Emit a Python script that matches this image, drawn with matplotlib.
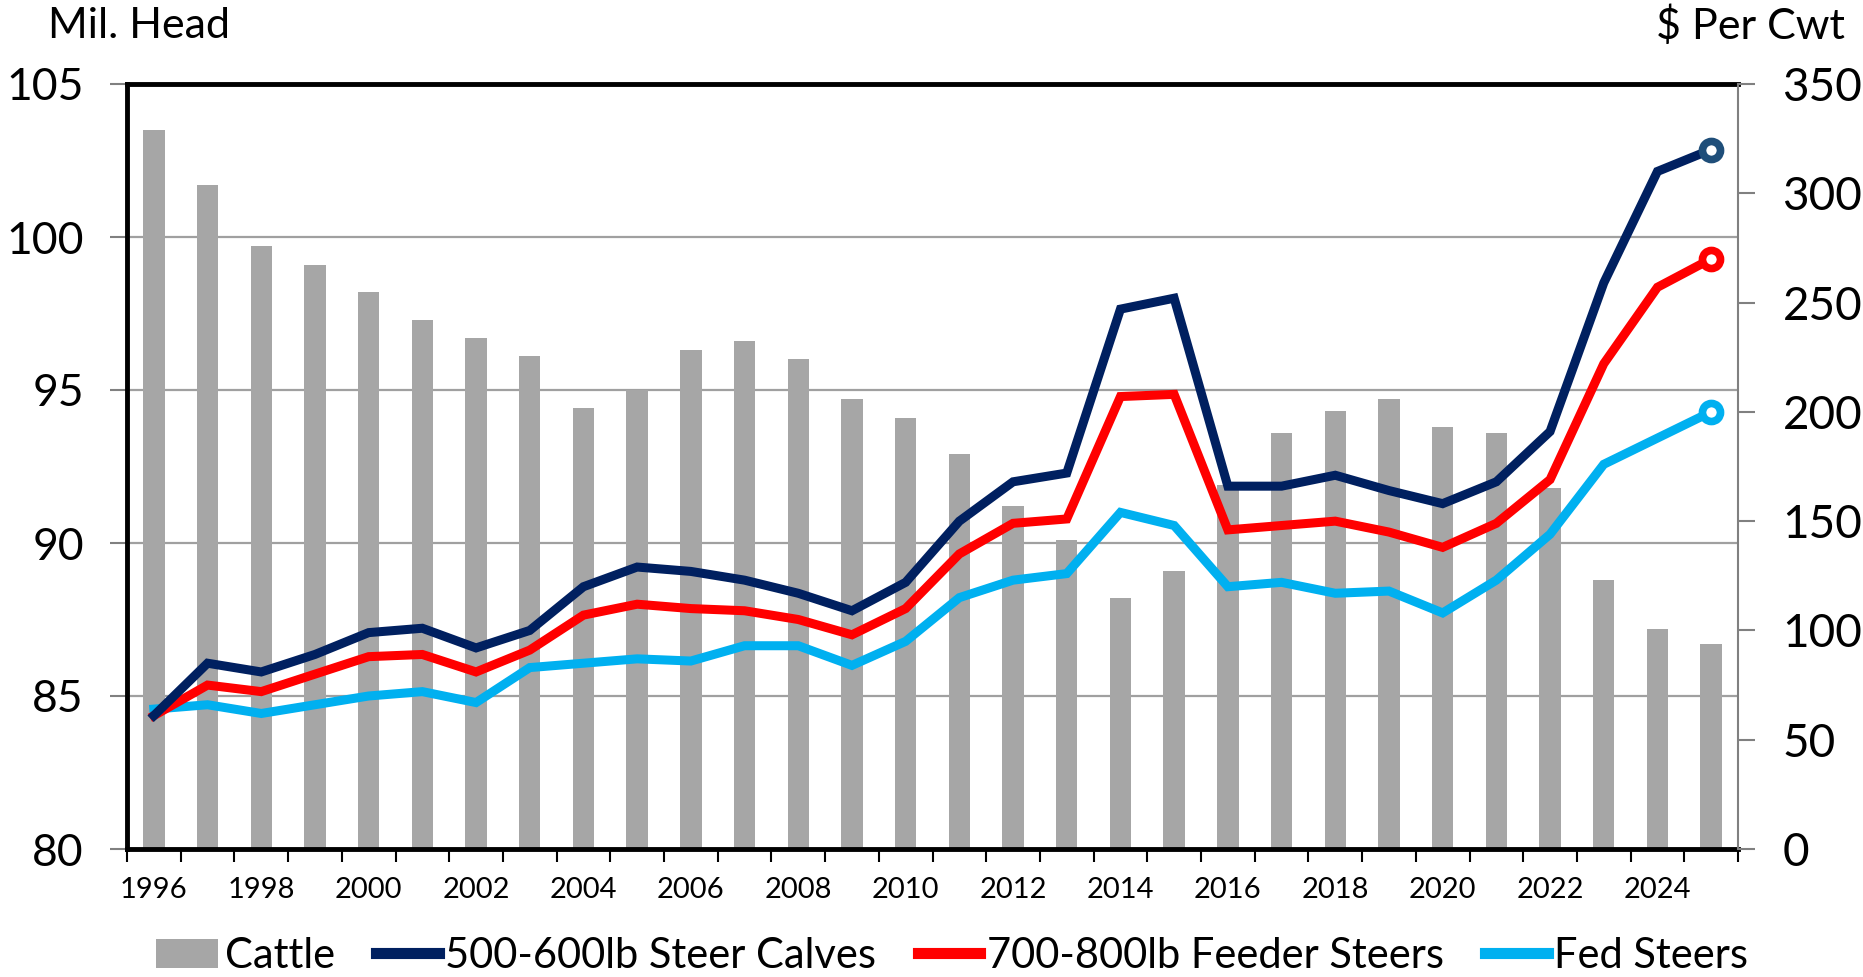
import matplotlib.pyplot as plt
from matplotlib.patches import Patch
from matplotlib.lines import Line2D
import numpy as np

plt.rcParams['font.family'] = ['Lato', 'DejaVu Sans']

years = list(range(1996, 2026))
# Jan 1 cattle inventory, million head (left axis)
cattle = [103.5, 101.7, 99.7, 99.1, 98.2, 97.3, 96.7, 96.1, 94.4, 95.0,
          96.3, 96.6, 96.0, 94.7, 94.1, 92.9, 91.2, 90.1, 88.2, 89.1,
          91.9, 93.6, 94.3, 94.7, 93.8, 93.6, 91.8, 88.8, 87.2, 86.7]
# prices, $ per cwt (right axis)
calves = [61, 85, 81, 89, 99, 101, 92, 100, 120, 129,
          127, 123, 117, 109, 122, 150, 168, 172, 247, 252,
          166, 166, 171, 164, 158, 168, 191, 259, 310, 320]
feeders = [61, 75, 72, 80, 88, 89, 81, 91, 107, 112,
           110, 109, 105, 98, 110, 135, 149, 151, 207, 208,
           146, 148, 150, 145, 138, 149, 169, 222, 257, 270]
fed = [64, 66, 62, 66, 70, 72, 67, 83, 85, 87,
       86, 93, 93, 84, 95, 115, 123, 126, 154, 148,
       120, 122, 117, 118, 108, 123, 144, 176, 188, 200]

labels = ['Cattle', '500-600lb Steer Calves', '700-800lb Feeder Steers', 'Fed Steers']
bar_color = '#A6A6A6'
line_colors = ['#002060', '#FF0000', '#00B0F0']
marker_edges = ['#1F4E79', '#FF0000', '#00B0F0']

W, H = 1863, 977
fig = plt.figure(figsize=(W / 100, H / 100), dpi=100)
ax = fig.add_axes([127 / W, 1 - 849 / H, (1738 - 127) / W, (849 - 84) / H])

ax.bar(years, cattle, width=0.4, color=bar_color, zorder=2)
ax.set_xlim(1995.5, 2025.5)
ax.set_ylim(80, 105)
ax.set_yticks(range(80, 106, 5))
ax.yaxis.grid(True, color='#A0A0A0', lw=1.6, zorder=0)
ax.set_axisbelow(True)

# ticks between categories, labels every two years
ax.set_xticks(np.arange(1995.5, 2026, 1))
ax.set_xticklabels([])
ax.set_xticks([y for y in years if y % 2 == 0], minor=True)
ax.set_xticklabels([str(y) for y in years if y % 2 == 0], minor=True, fontsize=21)
ax.tick_params(axis='x', which='major', length=9, width=1.5, color='black', direction='out')
ax.tick_params(axis='x', which='minor', length=0, pad=20)
ax.tick_params(axis='y', length=12, width=1.5, color='#808080', labelsize=32, pad=19)

for s in ['left', 'top', 'bottom']:
    ax.spines[s].set_color('black')
    ax.spines[s].set_linewidth(3.5)
ax.spines['right'].set_visible(False)

ax2 = ax.twinx()
ax2.set_ylim(0, 350)
ax2.set_yticks(range(0, 351, 50))
ax2.tick_params(axis='y', length=12, width=1.5, color='#808080', labelsize=33, pad=20)
for s in ['left', 'top', 'bottom']:
    ax2.spines[s].set_visible(False)
ax2.spines['right'].set_color('#808080')
ax2.spines['right'].set_linewidth(1.5)

for series, c, mec in zip([fed, feeders, calves], line_colors[::-1], marker_edges[::-1]):
    ax2.plot(years, series, color=c, lw=6.5, solid_joinstyle='miter', zorder=3)
    ax2.plot(years[-1:], series[-1:], 'o', ms=13, mfc='white', mec=mec, mew=5.5, zorder=4)

fig.text(48 / W, 1 - 26 / H, 'Mil. Head', ha='left', va='center', fontsize=31)
fig.text(1845 / W, 1 - 26 / H, r'\$ Per Cwt', ha='right', va='center', fontsize=31)

handles = [Patch(facecolor=bar_color)] + [Line2D([], [], color=c, lw=8) for c in line_colors]
fig.legend(handles, labels, loc='center', bbox_to_anchor=(0.511, 1 - 956 / H), ncol=4,
           frameon=False, fontsize=30, handlelength=1.5, handletextpad=0.15,
           columnspacing=1.0)

fig.savefig('out.png', dpi=100)
